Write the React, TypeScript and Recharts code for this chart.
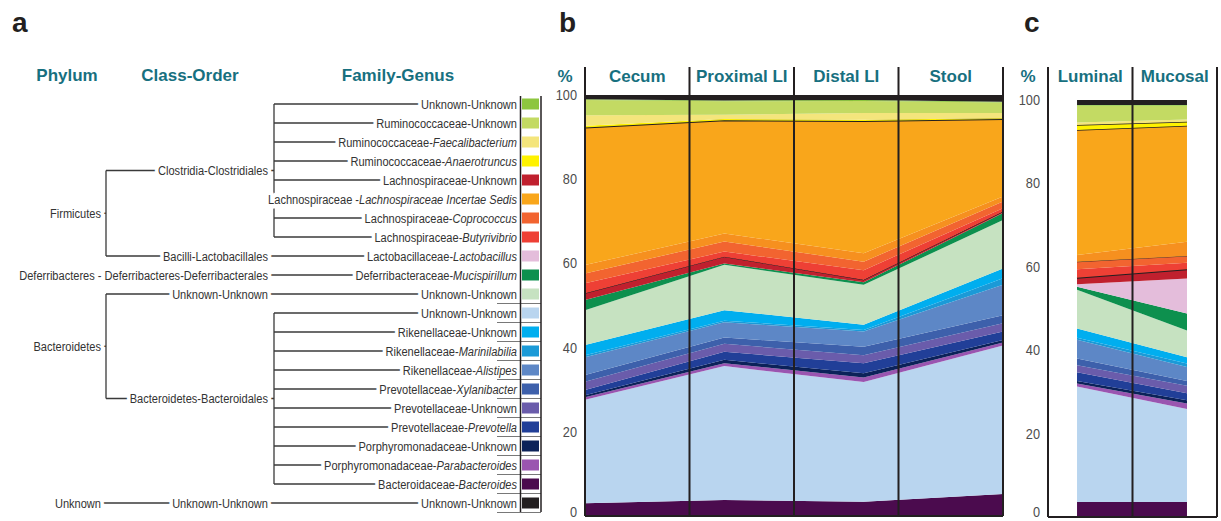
import React from 'react';
import { AreaChart, Area, XAxis, YAxis, ReferenceLine } from 'recharts';

const TEAL = '#17707f';
const INK = '#231f20';
const SANS = "'Liberation Sans', Arial, sans-serif";
const NARROW = 0.82;
const TOP = 67;

// taxa in stacking order, bottom of the chart first
const taxa = [
  'bacteroides', 'bacteroidalesUnknown', 'parabacteroides', 'porphyromonadaceaeUnknown',
  'prevotella', 'prevotellaceaeUnknown', 'xylanibacter', 'alistipes', 'marinilabilia',
  'rikenellaceaeUnknown', 'bacteroidetesUnknown', 'mucispirillum', 'lactobacillus',
  'lachnospiraceaeUnknown', 'butyrivibrio', 'coprococcus', 'lachnospiraceaeOther',
  'incertaeSedis', 'anaerotruncus', 'faecalibacterium', 'ruminococcaceaeUnknown',
  'clostridialesUnknown', 'unknown',
];
const taxaColors = [
  '#4b0b4e', '#b9d5ef', '#9a55b0', '#0c2259',
  '#213f98', '#6a5cab', '#3d60ab', '#5d87c6', '#1b9ad7',
  '#00aeef', '#c6e2c1', '#0d904e', '#e4bddb',
  '#c0202e', '#ee4035', '#f26430', '#f6901f',
  '#f9a61b', '#fff200', '#f4e57c', '#c3da63',
  '#8dc63f', '#231f20',
];

// relative abundance (%), same order as taxa
const cecum = [3.0, 24.6, 0.6, 0.5, 1.2, 2.0, 1.6, 4.2, 0.5, 2.4, 8.3, 2.4, 0, 1.6, 2.4, 2.3, 2.0, 32.7, 0.4, 2.5, 3.6, 0.2, 1.0];
const proximalLI = [3.8, 31.8, 0.7, 0.8, 1.9, 1.9, 1.5, 3.6, 0.4, 2.5, 10.8, 0.3, 0, 1.6, 1.2, 2.4, 1.9, 26.9, 0.3, 1.0, 3.2, 0.2, 1.3];
const distalLI = [3.4, 28.4, 1.1, 1.0, 2.4, 1.9, 2.0, 3.6, 0.4, 1.2, 9.5, 0.6, 0, 0.6, 2.3, 2.0, 2.0, 31.4, 0.3, 1.6, 2.9, 0.2, 1.2];
const stool = [5.2, 35.3, 0.7, 0.6, 2.0, 2.0, 1.9, 7.2, 1.6, 2.3, 11.5, 1.7, 0, 0.3, 0.8, 1.6, 1.2, 18.4, 0.2, 1.2, 2.5, 0.2, 1.6];
const luminal = [3.6, 27.7, 0.7, 0.6, 2.1, 1.7, 1.6, 4.5, 0.5, 2.2, 9.3, 0.7, 0.6, 1.6, 2.0, 1.8, 1.6, 30.0, 1.2, 0.6, 4.0, 0.2, 1.2];
const mucosal = [3.6, 22.3, 1.3, 0.8, 1.7, 1.8, 1.1, 3.4, 0.8, 1.5, 6.4, 4.1, 8.4, 2.2, 1.6, 1.6, 3.4, 27.8, 1.0, 0.5, 3.3, 0.2, 1.2];

const regionsB = ['Cecum', 'Proximal LI', 'Distal LI', 'Stool'];
const regionsC = ['Luminal', 'Mucosal'];
const yTicks = [0, 20, 40, 60, 80, 100];

// legend rows, top first
const legendTaxa = [
  'clostridialesUnknown', 'ruminococcaceaeUnknown', 'faecalibacterium', 'anaerotruncus',
  'lachnospiraceaeUnknown', 'incertaeSedis', 'coprococcus', 'butyrivibrio', 'lactobacillus',
  'mucispirillum', 'bacteroidetesUnknown', 'bacteroidalesUnknown', 'rikenellaceaeUnknown',
  'marinilabilia', 'alistipes', 'xylanibacter', 'prevotellaceaeUnknown', 'prevotella',
  'porphyromonadaceaeUnknown', 'parabacteroides', 'bacteroides', 'unknown',
];
const families = [
  'Unknown', 'Ruminococcaceae', 'Ruminococcaceae', 'Ruminococcaceae', 'Lachnospiraceae',
  'Lachnospiraceae ', 'Lachnospiraceae', 'Lachnospiraceae', 'Lactobacillaceae',
  'Deferribacteraceae', 'Unknown', 'Unknown', 'Rikenellaceae', 'Rikenellaceae', 'Rikenellaceae',
  'Prevotellaceae', 'Prevotellaceae', 'Prevotellaceae', 'Porphyromonadaceae',
  'Porphyromonadaceae', 'Bacteroidaceae', 'Unknown',
];
const genera = [
  'Unknown', 'Unknown', 'Faecalibacterium', 'Anaerotruncus', 'Unknown',
  'Lachnospiraceae Incertae Sedis', 'Coprococcus', 'Butyrivibrio', 'Lactobacillus',
  'Mucispirillum', 'Unknown', 'Unknown', 'Unknown', 'Marinilabilia', 'Alistipes',
  'Xylanibacter', 'Unknown', 'Prevotella', 'Unknown', 'Parabacteroides', 'Bacteroides', 'Unknown',
];
const classOrders = [
  { name: 'Clostridia-Clostridiales', rows: [0, 7] },
  { name: 'Bacilli-Lactobacillales', rows: [8, 8] },
  { name: 'Deferribacteres - Deferribacteres-Deferribacterales', rows: [9, 9] },
  { name: 'Unknown-Unknown', rows: [10, 10] },
  { name: 'Bacteroidetes-Bacteroidales', rows: [11, 20] },
  { name: 'Unknown-Unknown', rows: [21, 21] },
];
const phyla = [
  { name: 'Firmicutes', children: [0, 1] },
  { name: '', children: [2] },
  { name: 'Bacteroidetes', children: [3, 4] },
  { name: 'Unknown', children: [5] },
];

const ROW0 = 104;
const ROW_H = 19;
const rowY = (i: number) => ROW0 + i * ROW_H;
const X_PHY_END = 101;
const X_PHY_BR = 106;
const X_CLS_END = 268;
const X_CLS_BR = 274;
const X_FAM_END = 517;

// condensed label with a white knock-out behind it, so the tree lines stop short of the words
const NarrowText = ({ x, y, children, size = 13.5, fill = '#333', halo = 9 }: any) => (
  <g transform={`translate(${x},${y}) scale(${NARROW},1)`}>
    <text x={0} y={0} textAnchor="end" fontSize={size} fontFamily={SANS} fill="#fff"
      stroke="#fff" strokeWidth={halo} strokeLinejoin="round">
      {children}
    </text>
    <text x={0} y={0} textAnchor="end" fontSize={size} fontFamily={SANS} fill={fill}>
      {children}
    </text>
  </g>
);

const TaxonomyTree = () => {
  const classY = classOrders.map((c) => (rowY(c.rows[0]) + rowY(c.rows[1])) / 2);
  const lines: JSX.Element[] = [];
  const seg = (x1: number, y1: number, x2: number, y2: number) =>
    lines.push(<line key={lines.length} x1={x1} y1={y1} x2={x2} y2={y2} stroke="#3a3a3a" strokeWidth={1.3} />);

  classOrders.forEach((c) => {
    if (c.rows[1] > c.rows[0]) {
      seg(X_CLS_BR, rowY(c.rows[0]), X_CLS_BR, rowY(c.rows[1]));
      for (let r = c.rows[0]; r <= c.rows[1]; r++) seg(X_CLS_BR, rowY(r), X_FAM_END, rowY(r));
    } else {
      seg(X_CLS_END, rowY(c.rows[0]), X_FAM_END, rowY(c.rows[0]));
    }
  });
  const phylumY = phyla.map((p) => {
    const ys = p.children.map((k) => classY[k]);
    const mid = (Math.min(...ys) + Math.max(...ys)) / 2;
    if (p.children.length > 1) {
      seg(X_PHY_BR, Math.min(...ys), X_PHY_BR, Math.max(...ys));
      p.children.forEach((k) => {
        const multi = classOrders[k].rows[1] > classOrders[k].rows[0];
        seg(X_PHY_BR, classY[k], multi ? X_CLS_BR : X_CLS_END, classY[k]);
      });
      seg(X_PHY_END - 6, mid, X_PHY_BR, mid);
    } else if (p.name) {
      seg(X_PHY_END - 6, mid, X_CLS_END, mid);
    }
    return mid;
  });

  return (
    <svg width={545} height={521} style={{ position: 'absolute', left: 0, top: 0 }}>
      <text x={67} y={81} textAnchor="middle" fontSize={17} fontWeight="bold" fill={TEAL} fontFamily={SANS}>Phylum</text>
      <text x={190} y={81} textAnchor="middle" fontSize={17} fontWeight="bold" fill={TEAL} fontFamily={SANS}>Class-Order</text>
      <text x={398} y={81} textAnchor="middle" fontSize={17} fontWeight="bold" fill={TEAL} fontFamily={SANS}>Family-Genus</text>
      {lines}
      {phyla.map((p, i) => p.name ? (
        <NarrowText key={`p${i}`} x={X_PHY_END} y={phylumY[i] + 4.5}>{p.name}</NarrowText>
      ) : null)}
      {classOrders.map((c, i) => (
        <NarrowText key={`c${i}`} x={X_CLS_END} y={classY[i] + 4.5}>{c.name}</NarrowText>
      ))}
      {legendTaxa.map((t, i) => (
        <NarrowText key={`f${i}`} x={X_FAM_END} y={rowY(i) + 4.5}>
          {families[i]}-
          <tspan fontStyle={genera[i] === 'Unknown' ? 'normal' : 'italic'}>{genera[i]}</tspan>
        </NarrowText>
      ))}
      {legendTaxa.map((t, i) => i >= 10 ? (
        <line key={`u${i}`} x1={497} y1={rowY(i) + 9.5} x2={541} y2={rowY(i) + 9.5} stroke="#555" strokeWidth={0.8} />
      ) : null)}
      {legendTaxa.map((t, i) => (
        <rect key={`s${i}`} x={522} y={rowY(i) - 5.5} width={17} height={11} fill={taxaColors[taxa.indexOf(t)]} />
      ))}
      <line x1={520.5} y1={96} x2={520.5} y2={512} stroke={INK} strokeWidth={1.5} />
      <line x1={541} y1={96} x2={541} y2={512} stroke={INK} strokeWidth={1.5} />
    </svg>
  );
};

const YTick = ({ x, y, payload }: any) => (
  <g transform={`translate(${x},${Math.min(y + 5, 517)}) scale(0.85,1)`}>
    <text x={0} y={0} textAnchor="end" fontSize={15} fontFamily={SANS} fill="#4d4d4d">{payload.value}</text>
  </g>
);

const HeaderLabel = ({ viewBox, text }: any) => (
  <text x={viewBox ? viewBox.x : 0} y={TOP + 15} textAnchor="middle" fontSize={17} fontWeight="bold" fill={TEAL} fontFamily={SANS}>
    {text}
  </text>
);

const PercentLabel = (props: any) => {
  const vb = props.viewBox || { x: 0, width: 40 };
  return (
    <text x={vb.x + vb.width / 2} y={TOP + 15} textAnchor="middle" fontSize={17} fontWeight="bold" fill={TEAL} fontFamily={SANS}>%</text>
  );
};

type PanelProps = {
  left: number;
  width: number;
  samples: number[][];
  regions: string[];
  xPoints: number[];
  xDomain: [number, number];
  yMax: number;
  margin: { top: number; right: number; bottom: number; left: number };
  strokes: Record<string, number>;
};

const Panel = ({ left, width, samples, regions, xPoints, xDomain, yMax, margin, strokes }: PanelProps) => {
  const data = samples.map((s, i) => {
    const row: Record<string, number> = { x: xPoints[i] };
    taxa.forEach((t, j) => { row[t] = s[j]; });
    return row;
  });
  const step = (xDomain[1] - xDomain[0]) / regions.length;
  const centers = regions.map((_, i) => xDomain[0] + step * (i + 0.5));
  const dividers = regions.map((_, i) => xDomain[0] + step * (i + 1));
  return (
    <div style={{ position: 'absolute', left, top: 0 }}>
      <AreaChart width={width} height={521} data={data} margin={margin}>
        <XAxis type="number" dataKey="x" domain={xDomain} allowDataOverflow hide />
        <YAxis type="number" domain={[0, yMax]} ticks={yTicks} interval={0} width={40} allowDataOverflow
          axisLine={{ stroke: INK, strokeWidth: 2 }} tickLine={false} tick={<YTick />}
          label={{ content: (p: any) => <PercentLabel {...p} /> }} />
        {taxa.map((t, j) => (
          <Area key={t} type="linear" dataKey={t} stackId="1" fill={taxaColors[j]} fillOpacity={1}
            stroke={strokes[t] ? INK : 'none'} strokeWidth={strokes[t] || 0}
            dot={false} activeDot={false} isAnimationActive={false} />
        ))}
        {dividers.map((d, i) => (
          <ReferenceLine key={`d${i}`} x={d} stroke={INK} strokeWidth={2} ifOverflow="visible" />
        ))}
        {centers.map((c, i) => (
          <ReferenceLine key={`h${i}`} x={c} stroke="none"
            label={(p: any) => <HeaderLabel {...p} text={regions[i]} />} />
        ))}
        <ReferenceLine y={0} stroke={INK} strokeWidth={2} />
      </AreaChart>
    </div>
  );
};

export default function App() {
  return (
    <div style={{ position: 'absolute', left: 0, top: 0, width: 1221, height: 521, background: '#fff', overflow: 'hidden' }}>
      <TaxonomyTree />
      <Panel left={540} width={480} samples={[cecum, proximalLI, distalLI, stool]} regions={regionsB}
        xPoints={[0, 1, 2, 3]} xDomain={[0, 3]} yMax={(516 - TOP) / 4.21}
        margin={{ top: TOP, right: 17, bottom: 5, left: 5 }}
        strokes={{ lachnospiraceaeUnknown: 1, incertaeSedis: 2 }} />
      <Panel left={1000} width={221} samples={[luminal, mucosal]} regions={regionsC}
        xPoints={[0, 1]} xDomain={[-0.264, 1.273]} yMax={(517 - TOP) / 4.17}
        margin={{ top: TOP, right: 4, bottom: 4, left: 8 }}
        strokes={{ lachnospiraceaeUnknown: 2, coprococcus: 0.8, incertaeSedis: 1.5, anaerotruncus: 1.5 }} />
      <svg width={1221} height={40} style={{ position: 'absolute', left: 0, top: 0 }}>
        <text x={12} y={32} fontSize={28} fontWeight="bold" fill={INK} fontFamily={SANS}>a</text>
        <text x={559} y={32} fontSize={28} fontWeight="bold" fill={INK} fontFamily={SANS}>b</text>
        <text x={1024} y={32} fontSize={28} fontWeight="bold" fill={INK} fontFamily={SANS}>c</text>
      </svg>
    </div>
  );
}
